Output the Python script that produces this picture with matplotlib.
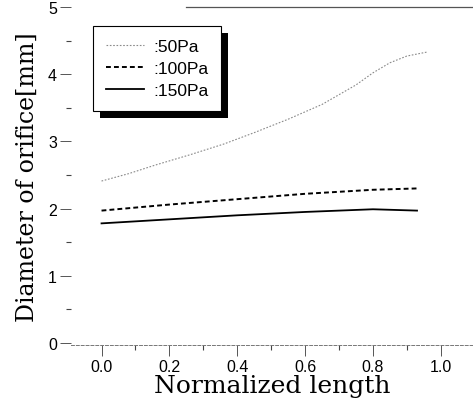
import matplotlib

matplotlib.use("Agg")
import matplotlib.pyplot as plt
from matplotlib.patches import Rectangle
from matplotlib.ticker import MultipleLocator

# %% data
x_50 = [0.0, 0.08, 0.16, 0.26, 0.36, 0.45, 0.55, 0.65, 0.75, 0.80, 0.85, 0.90, 0.96]
d_50 = [2.41, 2.52, 2.65, 2.80, 2.96, 3.13, 3.33, 3.55, 3.84, 4.02, 4.17, 4.27, 4.33]

x_100 = [0.0, 0.2, 0.4, 0.6, 0.8, 0.93]
d_100 = [1.97, 2.06, 2.14, 2.22, 2.28, 2.30]

x_150 = [0.0, 0.2, 0.4, 0.6, 0.8, 0.93]
d_150 = [1.78, 1.84, 1.90, 1.95, 1.99, 1.97]

labels = [":50Pa", ":100Pa", ":150Pa"]
xticks = [0.0, 0.2, 0.4, 0.6, 0.8, 1.0]
yticks = [0, 1, 2, 3, 4, 5]

# %% figure
sans = ["Liberation Sans", "DejaVu Sans"]
serif = ["DejaVu Serif"]

fig = plt.figure(figsize=(4.73, 4.06), dpi=100)
ax = fig.add_axes([71 / 473, 60 / 406, 1 - 71 / 473, 338 / 406])

ax.plot(x_50, d_50, color="#8a8a8a", lw=0.8, ls=(0, (1.5, 1.5)), label=labels[0])
ax.plot(x_100, d_100, color="black", lw=1.4, ls=(0, (2.5, 1.6)), label=labels[1])
ax.plot(x_150, d_150, color="black", lw=1.3, ls="-", label=labels[2])

ax.set_xlim(-0.09, 1.095)
ax.set_ylim(-0.03, 5.0)
ax.set_xticks(xticks)
ax.set_xticklabels(["{:.1f}".format(t) for t in xticks], family=sans, fontsize=11.5)
ax.set_yticks(yticks)
ax.set_yticklabels([str(t) for t in yticks], family=sans, fontsize=11.5)
ax.xaxis.set_minor_locator(MultipleLocator(0.1))
ax.yaxis.set_minor_locator(MultipleLocator(0.5))
ax.tick_params(which="major", direction="out", length=8, width=0.7, color="#555555", pad=2)
ax.tick_params(which="minor", direction="out", length=3.5, width=0.8, color="#444444")

# faded scan: left spine lost, others thin and grey
ax.spines["left"].set_visible(False)
ax.spines["right"].set_visible(False)
ax.spines["bottom"].set_color("#777777")
ax.spines["bottom"].set_linewidth(0.7)
ax.spines["bottom"].set_linestyle((0, (3, 2)))
ax.spines["top"].set_color("#555555")
ax.spines["top"].set_linewidth(0.9)
ax.spines["top"].set_bounds(0.25, 1.095)

ax.set_xlabel("Normalized length", family=serif, fontsize=18, labelpad=0)
ax.set_ylabel("Diameter of orifice[mm]", family=serif, fontsize=17, labelpad=7)

leg = ax.legend(
    loc="upper left",
    bbox_to_anchor=(93 / 473, 1 - 27 / 406),
    bbox_transform=fig.transFigure,
    prop={"family": sans, "size": 12.5},
    frameon=True,
    fancybox=False,
    edgecolor="black",
    framealpha=1,
    borderpad=0.75,
    labelspacing=0.4,
    handlelength=2.2,
    handletextpad=0.5,
    borderaxespad=0,
)
leg.get_frame().set_linewidth(0.8)

# heavy offset shadow under the legend box
fig.canvas.draw()
bb = leg.get_window_extent().transformed(fig.transFigure.inverted())
off_x, off_y = 7 / 473, 7 / 406
shadow = Rectangle(
    (bb.x0 + off_x, bb.y0 - off_y),
    bb.width,
    bb.height,
    transform=fig.transFigure,
    facecolor="black",
    edgecolor="none",
    zorder=4,
)
fig.add_artist(shadow)
leg.set_zorder(5)
leg.remove()
fig.add_artist(leg)

fig.savefig("out.png", dpi=100)
